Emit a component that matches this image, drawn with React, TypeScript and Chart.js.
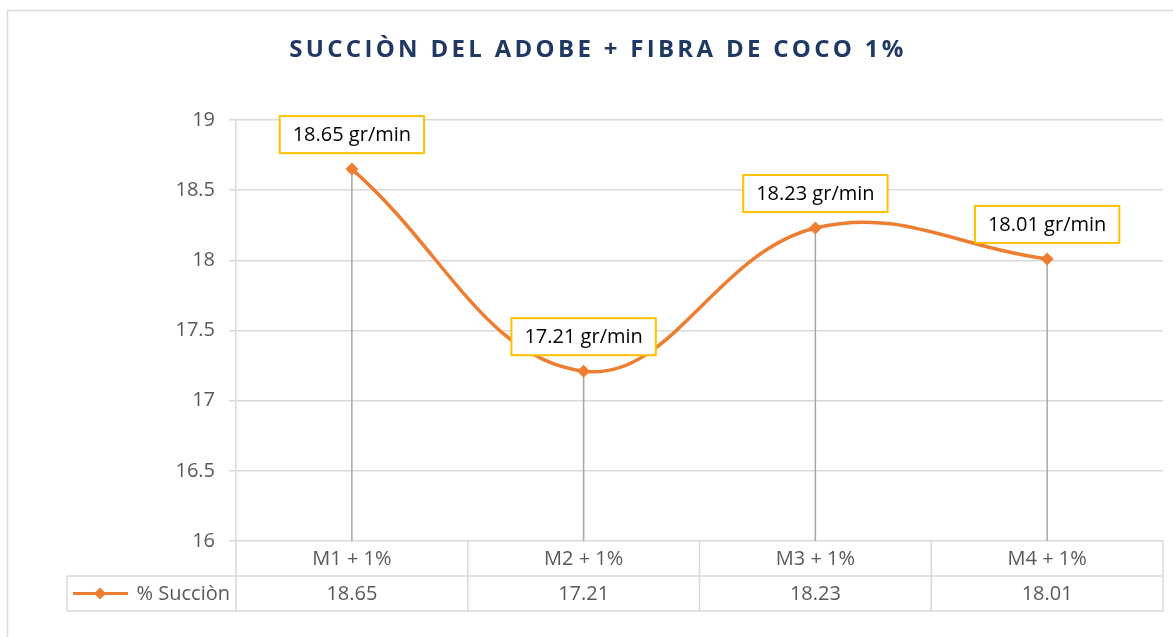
import { useEffect, useRef } from "react";
import { Chart, registerables } from "chart.js";

Chart.register(...registerables);

const categories = ["M1 + 1%", "M2 + 1%", "M3 + 1%", "M4 + 1%"];
const succionValues = [18.65, 17.21, 18.23, 18.01];
const seriesName = "% Succiòn";
const labelUnit = " gr/min";
const chartTitle = "SUCCIÒN DEL ADOBE + FIBRA DE COCO 1%";
const yMin = 16;
const yMax = 19;
const yStep = 0.5;

const FONT = "'Open Sans', sans-serif";
const ORANGE = "#ED7D31";
const GRID = "#D9D9D9";

const excelPlugin = {
  id: "excelLook",
  beforeDraw(chart: any) {
    const ctx = chart.ctx;
    ctx.save();
    ctx.fillStyle = "#ffffff";
    ctx.fillRect(0, 0, chart.width, chart.height);
    ctx.strokeStyle = GRID;
    ctx.lineWidth = 1.5;
    ctx.beginPath();
    ctx.moveTo(7.5, chart.height + 5);
    ctx.lineTo(7.5, 10.5);
    ctx.lineTo(chart.width + 5, 10.5);
    ctx.stroke();
    // title
    ctx.fillStyle = "#1F3864";
    ctx.font = `bold 24px ${FONT}`;
    (ctx as any).letterSpacing = "3.3px";
    ctx.textAlign = "center";
    ctx.textBaseline = "middle";
    ctx.fillText(chartTitle, 598, 50);
    ctx.restore();
  },
  beforeDatasetsDraw(chart: any) {
    const ctx = chart.ctx;
    const meta = chart.getDatasetMeta(0);
    const bottom = chart.chartArea.bottom;
    ctx.save();
    ctx.strokeStyle = "#A5A5A5";
    ctx.lineWidth = 1.5;
    meta.data.forEach((p: any) => {
      ctx.beginPath();
      ctx.moveTo(p.x, p.y);
      ctx.lineTo(p.x, bottom);
      ctx.stroke();
    });
    ctx.restore();
  },
  afterDatasetsDraw(chart: any) {
    const ctx = chart.ctx;
    const meta = chart.getDatasetMeta(0);
    ctx.save();
    ctx.font = `20px ${FONT}`;
    ctx.textAlign = "center";
    ctx.textBaseline = "middle";
    meta.data.forEach((p: any, i: number) => {
      const txt = succionValues[i].toFixed(2) + labelUnit;
      const w = ctx.measureText(txt).width + 26;
      const h = 37;
      const bx = p.x - w / 2;
      const by = p.y - 16 - h;
      ctx.fillStyle = "#ffffff";
      ctx.fillRect(bx, by, w, h);
      ctx.strokeStyle = "#FFC000";
      ctx.lineWidth = 2;
      ctx.strokeRect(bx, by, w, h);
      ctx.fillStyle = "#000000";
      ctx.fillText(txt, p.x, by + h / 2 + 1);
    });
    ctx.restore();
  },
  afterDraw(chart: any) {
    const ctx = chart.ctx;
    const { left, right, bottom } = chart.chartArea;
    const rowH = 35;
    const r1 = bottom + rowH;
    const r2 = bottom + rowH * 2;
    const legendLeft = 67;
    const n = categories.length;
    const cw = (right - left) / n;
    ctx.save();
    ctx.strokeStyle = GRID;
    ctx.lineWidth = 1.5;
    ctx.beginPath();
    ctx.moveTo(legendLeft, r1);
    ctx.lineTo(right, r1);
    ctx.moveTo(legendLeft, r2);
    ctx.lineTo(right, r2);
    ctx.moveTo(legendLeft, r1);
    ctx.lineTo(legendLeft, r2);
    for (let i = 0; i <= n; i++) {
      const x = left + i * cw;
      ctx.moveTo(x, bottom);
      ctx.lineTo(x, r2);
    }
    ctx.stroke();

    ctx.font = `20px ${FONT}`;
    ctx.fillStyle = "#595959";
    ctx.textAlign = "center";
    ctx.textBaseline = "middle";
    const xs = chart.scales.x;
    categories.forEach((c, i) => {
      const x = xs.getPixelForValue(i);
      ctx.fillText(c, x, bottom + rowH / 2 + 1);
      ctx.fillText(String(succionValues[i]), x, r1 + rowH / 2 + 1);
    });
    // legend key
    const ly = r1 + rowH / 2;
    ctx.strokeStyle = ORANGE;
    ctx.lineWidth = 3;
    ctx.beginPath();
    ctx.moveTo(73, ly);
    ctx.lineTo(128, ly);
    ctx.stroke();
    ctx.fillStyle = ORANGE;
    ctx.beginPath();
    ctx.moveTo(100, ly - 6);
    ctx.lineTo(106, ly);
    ctx.lineTo(100, ly + 6);
    ctx.lineTo(94, ly);
    ctx.closePath();
    ctx.fill();
    ctx.fillStyle = "#595959";
    ctx.textAlign = "right";
    ctx.fillText(seriesName, left - 6, ly + 1);
    ctx.restore();
  },
};

export default function App() {
  const ref = useRef<HTMLCanvasElement>(null);
  useEffect(() => {
    document.body.style.margin = "0";
    const chart = new Chart(ref.current as HTMLCanvasElement, {
      type: "line",
      data: {
        labels: categories,
        datasets: [
          {
            label: seriesName,
            data: succionValues,
            borderColor: ORANGE,
            backgroundColor: ORANGE,
            borderWidth: 3.5,
            tension: 0.4,
            pointStyle: "rectRot",
            pointRadius: 6.5,
            pointBorderWidth: 0,
            pointBackgroundColor: ORANGE,
            clip: false as any,
          },
        ],
      },
      options: {
        animation: false,
        responsive: false,
        layout: { padding: { top: 120, right: 10, bottom: 96, left: 0 } },
        plugins: {
          legend: { display: false },
          title: { display: false },
          tooltip: { enabled: false },
        },
        scales: {
          x: { display: false, offset: true },
          y: {
            min: yMin,
            max: yMax,
            afterFit: (s: any) => {
              s.width = 236;
            },
            ticks: {
              stepSize: yStep,
              color: "#595959",
              font: { family: FONT, size: 20 },
              padding: 14,
              callback: (v: any) => String(Number(v)),
            },
            grid: { color: GRID, lineWidth: 1.5, tickLength: 7 },
            border: { color: GRID, width: 1.5 },
          },
        },
      },
      plugins: [excelPlugin],
    });
    return () => chart.destroy();
  }, []);
  return (
    <div style={{ width: 1173, height: 637 }}>
      <canvas ref={ref} width={1173} height={637} />
    </div>
  );
}
